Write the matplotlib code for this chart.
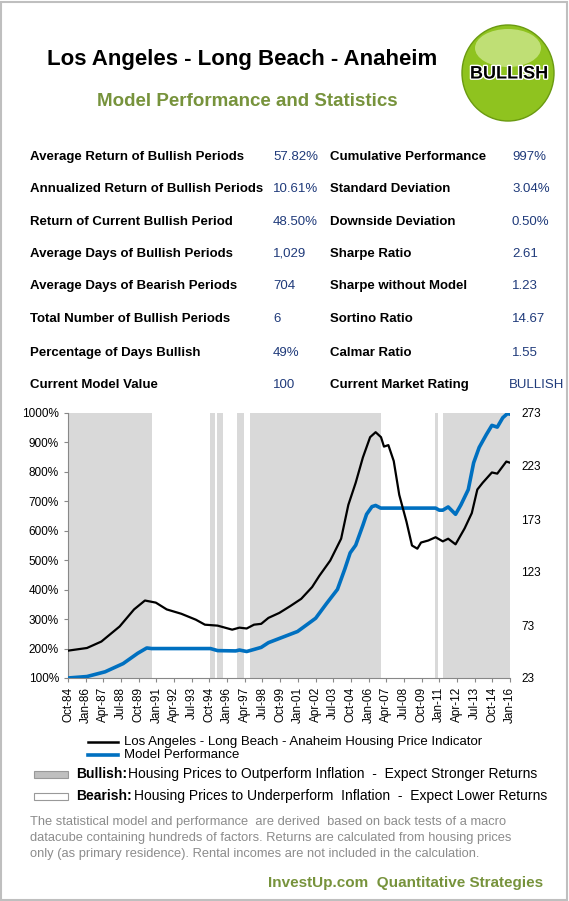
import matplotlib.pyplot as plt
import matplotlib.patches as mpatches
import matplotlib.patheffects as pe
import numpy as np

plt.rcParams['font.family'] = ['Liberation Sans', 'DejaVu Sans']

# statistics table
left_labels = ["Average Return of Bullish Periods", "Annualized Return of Bullish Periods",
               "Return of Current Bullish Period", "Average Days of Bullish Periods",
               "Average Days of Bearish Periods", "Total Number of Bullish Periods",
               "Percentage of Days Bullish", "Current Model Value"]
left_values = ["57.82%", "10.61%", "48.50%", "1,029", "704", "6", "49%", "100"]
right_labels = ["Cumulative Performance", "Standard Deviation", "Downside Deviation",
                "Sharpe Ratio", "Sharpe without Model", "Sortino Ratio", "Calmar Ratio",
                "Current Market Rating"]
right_values = ["997%", "3.04%", "0.50%", "2.61", "1.23", "14.67", "1.55", "BULLISH"]

# housing price indicator (right axis)
price_years = [1984.75, 1986.09, 1987.11, 1988.40, 1989.42, 1990.19, 1990.96, 1991.73, 1992.76,
               1993.79, 1994.43, 1995.33, 1996.36, 1996.87, 1997.38, 1997.90, 1998.41, 1998.92,
               1999.69, 2000.46, 2001.24, 2002.01, 2002.52, 2003.29, 2004.06, 2004.57, 2005.09,
               2005.60, 2006.11, 2006.50, 2006.88, 2007.09, 2007.40, 2007.78, 2008.17, 2008.68,
               2009.07, 2009.45, 2009.71, 2010.22, 2010.74, 2011.25, 2011.63, 2012.15, 2012.79,
               2013.30, 2013.69, 2014.07, 2014.72, 2015.10, 2015.74, 2016.0]
price_vals = [48.8, 51.3, 57.4, 71.6, 87.7, 96.1, 94.1, 87.7, 83.6, 78.0, 73.3, 72.4, 68.6, 70.5,
              69.7, 73.3, 74.1, 79.7, 84.4, 90.8, 97.7, 108.8, 119.4, 133.8, 154.4, 186.3, 207.2,
              231.1, 250.2, 254.9, 250.2, 241.3, 242.7, 227.7, 195.8, 170.5, 148.0, 145.0, 150.8,
              152.7, 155.8, 151.9, 154.4, 149.1, 164.1, 178.6, 200.8, 207.2, 216.9, 215.8, 227.2,
              226.1]

# model performance (left axis, %)
model_years = [1984.75, 1986.09, 1987.37, 1988.65, 1989.68, 1990.32, 1990.66, 1994.82, 1995.33,
               1996.61, 1996.87, 1997.38, 1997.90, 1998.41, 1998.92, 1999.95, 2000.98, 2001.75,
               2002.26, 2003.03, 2003.80, 2004.32, 2004.70, 2005.09, 2005.60, 2005.86, 2006.24,
               2006.50, 2006.86, 2010.74, 2011.0, 2011.25, 2011.63, 2012.15, 2012.53, 2013.05,
               2013.43, 2013.82, 2014.33, 2014.72, 2015.10, 2015.49, 2015.82, 2016.0]
model_vals = [100, 105, 121, 149, 184, 202, 200, 200, 193, 192, 195, 190, 197, 204, 220, 239, 258,
              285, 303, 353, 401, 470, 525, 551, 619, 656, 682, 686, 677, 677, 670, 670, 681, 656,
              688, 740, 831, 883, 927, 958, 952, 984, 998, 996]

bullish_periods = [(1984.75, 1990.69), (1994.82, 1995.13), (1995.29, 1995.74), (1996.70, 1997.16),
                   (1997.62, 2006.85), (2010.73, 2010.90), (2011.26, 2016.0)]

tick_labels = ["Oct-84", "Jan-86", "Apr-87", "Jul-88", "Oct-89", "Jan-91", "Apr-92", "Jul-93",
               "Oct-94", "Jan-96", "Apr-97", "Jul-98", "Oct-99", "Jan-01", "Apr-02", "Jul-03",
               "Oct-04", "Jan-06", "Apr-07", "Jul-08", "Oct-09", "Jan-11", "Apr-12", "Jul-13",
               "Oct-14", "Jan-16"]

W, H = 569, 901
fig = plt.figure(figsize=(W / 100, H / 100), dpi=100)
fig.patches.append(mpatches.Rectangle((1 / W, 1 / H), 1 - 3 / W, 1 - 3 / H, transform=fig.transFigure,
                                      fill=False, edgecolor="#bfbfbf", lw=1.5))

def t(x, y, s, **kw):
    fig.text(x / W, 1 - y / H, s, **kw)

def hline(x0, x1, y, **kw):
    fig.add_artist(plt.Line2D([x0 / W, x1 / W], [1 - y / H] * 2, transform=fig.transFigure, **kw))

green = "#77933c"
navy = "#1f3a7a"
t(242, 59, "Los Angeles - Long Beach - Anaheim", fontsize=16, fontweight="bold", ha="center", va="center")
t(247, 102, "Model Performance and Statistics", fontsize=13.5, fontweight="bold", color=green,
  ha="center", va="center")

# bullish badge
fig.patches.append(mpatches.Ellipse((508 / W, 1 - 73 / H), 92 / W, 96 / H, transform=fig.transFigure,
                                    facecolor="#8fc31f", edgecolor="#6a9a10", lw=1))
fig.patches.append(mpatches.Ellipse((508 / W, 1 - 48 / H), 66 / W, 38 / H, transform=fig.transFigure,
                                    facecolor="#d4ec9a", edgecolor="none", alpha=0.7))
t(509, 74, "BULLISH", fontsize=13, fontweight="bold", ha="center", va="center",
  path_effects=[pe.withStroke(linewidth=2, foreground="white")])

rows_y = [157, 189, 222, 254, 286, 319, 353, 385]
for i, y in enumerate(rows_y):
    t(30, y, left_labels[i], fontsize=9.5, fontweight="bold", va="center")
    t(273, y, left_values[i], fontsize=9.5, color=navy, va="center")
    t(330, y, right_labels[i], fontsize=9.5, fontweight="bold", va="center")
    t(509 if i == 7 else 512, y, right_values[i], fontsize=9.5, color=navy, va="center")

ax = fig.add_axes([68 / W, 1 - 678 / H, 442 / W, 265 / H])
for a, b in bullish_periods:
    ax.axvspan(a, b, color="#d9d9d9", lw=0)
ax.set_xlim(1984.75, 2016.0)
ax.set_ylim(100, 1000)
ax.set_yticks(np.arange(100, 1001, 100))
ax.set_yticklabels([f"{v}%" for v in range(100, 1001, 100)], fontsize=8.5)
ticks = 1984.75 + np.arange(len(tick_labels)) * 1.25
ax.set_xticks(ticks)
ax.set_xticklabels(tick_labels, rotation=90, fontsize=8.5)
ax.plot(model_years, model_vals, color="#0070c0", lw=2.6, zorder=3)
for s in ["top", "right"]:
    ax.spines[s].set_visible(False)
for s in ["left", "bottom"]:
    ax.spines[s].set_color("#888888")
ax.tick_params(length=3, color="#888888")

ax2 = ax.twinx()
ax2.set_ylim(23, 273)
ax2.set_yticks(np.arange(23, 274, 50))
ax2.tick_params(length=0, labelsize=8.5, pad=8)
ax2.plot(price_years, price_vals, color="black", lw=1.6, zorder=4)
for s in ax2.spines.values():
    s.set_visible(False)

# legend
hline(88, 118, 742, color="black", lw=1.8)
t(124, 742, "Los Angeles - Long Beach - Anaheim Housing Price Indicator", fontsize=9.5, va="center")
hline(88, 118, 755, color="#0070c0", lw=2.6)
t(124, 755, "Model Performance", fontsize=9.5, va="center")
fig.patches.append(mpatches.Rectangle((34 / W, 1 - 778 / H), 34 / W, 7 / H, transform=fig.transFigure,
                                      facecolor="#bfbfbf", edgecolor="#999999", lw=0.8))
t(76, 774, "Bullish:", fontsize=10, fontweight="bold", va="center")
t(128, 774, "Housing Prices to Outperform Inflation  -  Expect Stronger Returns", fontsize=10, va="center")
fig.patches.append(mpatches.Rectangle((34 / W, 1 - 800 / H), 34 / W, 7 / H, transform=fig.transFigure,
                                      facecolor="white", edgecolor="#999999", lw=0.8))
t(76, 796, "Bearish:", fontsize=10, fontweight="bold", va="center")
t(134, 796, "Housing Prices to Underperform  Inflation  -  Expect Lower Returns", fontsize=10, va="center")

gray = "#8c8c8c"
t(30, 822, "The statistical model and performance  are derived  based on back tests of a macro", fontsize=9.3, color=gray, va="center")
t(30, 838, "datacube containing hundreds of factors. Returns are calculated from housing prices", fontsize=9.3, color=gray, va="center")
t(30, 854, "only (as primary residence). Rental incomes are not included in the calculation.", fontsize=9.3, color=gray, va="center")
t(543, 883, "InvestUp.com  Quantitative Strategies", fontsize=11, fontweight="bold", color=green,
  ha="right", va="center")

fig.savefig("out.png", dpi=100)
